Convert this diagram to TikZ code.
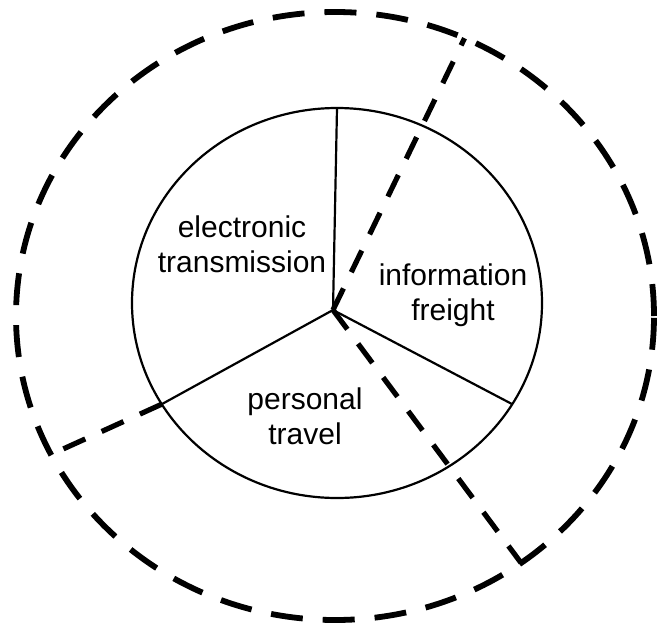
\documentclass[tikz,border=0pt]{standalone}
\usepackage{fontspec}
\setmainfont{Liberation Sans}
\usetikzlibrary{shapes.geometric}

\begin{document}
\begin{tikzpicture}[
        x=0.5pt, y=-0.5pt,
        wheel/.style={ellipse, draw=black, line width=1.1pt,
                      inner sep=0pt, outer sep=0pt},
        ring/.style={ellipse, draw=black, line width=2.9pt,
                     dash pattern=on 16pt off 10pt,
                     inner sep=0pt, outer sep=0pt},
        spoke/.style={draw=black, line width=1.1pt},
        route/.style={draw=black, line width=2.6pt,
                      dash pattern=on 12pt off 9pt},
        lbl/.style={align=center, inner sep=0pt,
                    font=\fontsize{15}{17.5}\selectfont},
    ]
    \useasboundingbox (0,0) rectangle (657,631);

    % inner wheel and outer dashed ring
    \node[wheel, minimum width=205pt, minimum height=195pt] (disc) at (337,303) {};
    \node[ring, minimum width=319pt, minimum height=304pt] (outer) at (335,316) {};
    \coordinate (hub) at (333,310);

    % solid dividers
    \draw[spoke] (hub) -- (disc.north);
    \draw[spoke] (hub) -- (disc.210);
    \draw[spoke] (hub) -- (disc.330);

    % dashed dividers
    \draw[route] (hub) -- (outer.65);
    \draw[route] (hub) -- (outer.307);
    \draw[route] (disc.210) -- (outer.206);

    % sector labels
    \node[lbl] (elec) at (242,244) {electronic\\transmission};
    \node[lbl] (info) at (453,295) {information\\freight};
    \node[lbl] (pers) at (305,416) {personal\\travel};
\end{tikzpicture}
\end{document}
